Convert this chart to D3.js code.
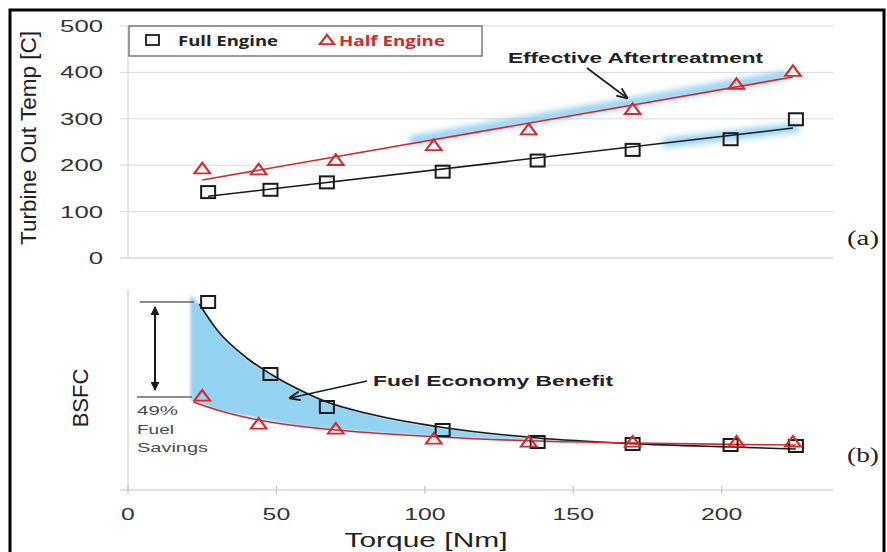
<!DOCTYPE html>
<html>
<head>
<meta charset="utf-8">
<script src="https://cdn.jsdelivr.net/npm/d3@7"></script>
<style>
  body { margin: 0; background: #fff; }
  svg { display: block; }
</style>
</head>
<body>
<svg id="chart" width="887" height="552"></svg>
<script>
// torque [Nm] of each measured point
const fullTorque = [27, 48, 67, 106, 138, 170, 203, 225];
const halfTorque = [25, 44, 70, 103, 135, 170, 205, 224];

// (a) turbine out temp [C]
const fullTemp = [142, 147, 163, 186, 210, 233, 256, 299];
const halfTemp = [190, 188, 208, 240, 274, 318, 372, 400];
const fullTrend = [[27, 133], [224, 280]];
const halfTrend = [[25, 168], [224, 390]];
const halfGlow = [95, 222];
const fullGlow = [180, 226];
const tempTicks = [0, 100, 200, 300, 400, 500];

// (b) BSFC, relative units (no axis labels in the original)
const fullBsfc = [940, 580, 415, 300, 240, 230, 225, 220];
const halfBsfc = [465, 325, 300, 250, 235, 235, 235, 235];
const fullFitX = [24, 30, 40, 48, 60, 67, 80, 105, 138, 170, 203, 225];
const fullFitY = [930, 800, 660, 580, 485, 440, 385, 315, 260, 232, 215, 205];
const halfFitX = [22, 30, 44, 60, 70, 105, 138, 170, 203, 225];
const halfFitY = [440, 400, 350, 315, 300, 265, 245, 235, 228, 225];
const bandX = [21, 24, 30, 40, 48, 60, 70, 80, 105, 138, 170];
const bandTop = [975, 930, 800, 660, 580, 485, 430, 385, 315, 260, 232];
const bandBottom = [450, 435, 400, 370, 345, 315, 300, 290, 265, 245, 235];
const torqueTicks = [0, 50, 100, 150, 200];

const svg = d3.select("#chart");
const red = "#d8282c", black = "#1a1a1a", glow = "#7ec8ee";
const sans = "Liberation Sans, Arial, sans-serif";

const x = d3.scaleLinear().domain([0, 237.5]).range([128, 833]);
const yTop = d3.scaleLinear().domain([0, 500]).range([258, 26]);
const yBot = d3.scaleLinear().domain([0, 1000]).range([490, 290]);

const defs = svg.append("defs");
defs.append("filter").attr("id", "blur").attr("x", "-10%").attr("y", "-80%").attr("width", "120%").attr("height", "260%")
  .append("feGaussianBlur").attr("stdDeviation", 3);
defs.append("filter").attr("id", "soft").attr("x", "-10%").attr("y", "-10%").attr("width", "120%").attr("height", "120%")
  .append("feGaussianBlur").attr("stdDeviation", 1.8);
defs.append("clipPath").attr("id", "bandclip")
  .append("rect").attr("x", x(20.5)).attr("y", 280).attr("width", 700).attr("height", 220);
defs.append("marker").attr("id", "arrow").attr("viewBox", "0 0 10 10")
  .attr("refX", 9).attr("refY", 5).attr("markerWidth", 7).attr("markerHeight", 7)
  .attr("orient", "auto-start-reverse")
  .append("path").attr("d", "M0,1 L10,5 L0,9").attr("fill", "none").attr("stroke", black).attr("stroke-width", 1.6);
defs.append("marker").attr("id", "tri").attr("viewBox", "0 0 10 10")
  .attr("refX", 9).attr("refY", 5).attr("markerWidth", 4.5).attr("markerHeight", 4.5)
  .attr("orient", "auto-start-reverse")
  .append("path").attr("d", "M0,0 L10,5 L0,10 Z").attr("fill", black);

// frame
svg.append("rect").attr("x", 10).attr("y", 10).attr("width", 874).attr("height", 560)
  .attr("fill", "none").attr("stroke", "#000").attr("stroke-width", 3);

// ---------- panel (a) ----------
svg.append("g").selectAll("line").data(tempTicks).enter().append("line")
  .attr("x1", 120).attr("x2", 833)
  .attr("y1", d => yTop(d)).attr("y2", d => yTop(d))
  .attr("stroke", d => d === 0 ? "#c4c4c4" : "#dadada").attr("stroke-width", 1);
svg.append("line").attr("x1", x(0)).attr("x2", x(0)).attr("y1", yTop(500)).attr("y2", yTop(0))
  .attr("stroke", "#d4d4d4");
svg.append("g").selectAll("text").data(tempTicks).enter().append("text")
  .attr("x", 103).attr("y", d => yTop(d) + 6)
  .attr("text-anchor", "end").attr("font-family", sans)
  .attr("font-size", 16).attr("fill", "#333")
  .attr("textLength", d => String(d).length * 14.3).attr("lengthAdjust", "spacingAndGlyphs")
  .text(d => d);
svg.append("text").attr("transform", "translate(36,138) rotate(-90)")
  .attr("text-anchor", "middle").attr("font-family", sans)
  .attr("font-size", 22).attr("fill", "#222").attr("textLength", 214).attr("lengthAdjust", "spacingAndGlyphs")
  .text("Turbine Out Temp [C]");

// glow highlights along the trend lines
const halfLine = d3.scaleLinear().domain(halfTrend.map(d => d[0])).range(halfTrend.map(d => d[1]));
const fullLine = d3.scaleLinear().domain(fullTrend.map(d => d[0])).range(fullTrend.map(d => d[1]));
svg.append("line").attr("x1", x(halfGlow[0])).attr("x2", x(halfGlow[1]))
  .attr("y1", yTop(halfLine(halfGlow[0])) - 3).attr("y2", yTop(halfLine(halfGlow[1])) - 3)
  .attr("stroke", glow).attr("stroke-width", 9).attr("opacity", 0.85).attr("filter", "url(#blur)");
svg.append("line").attr("x1", x(fullGlow[0])).attr("x2", x(fullGlow[1]))
  .attr("y1", yTop(fullLine(fullGlow[0]))).attr("y2", yTop(fullLine(fullGlow[1])))
  .attr("stroke", glow).attr("stroke-width", 9).attr("opacity", 0.85).attr("filter", "url(#blur)");

const line = d3.line().x(d => x(d[0])).y(d => yTop(d[1]));
svg.append("path").attr("d", line(fullTrend)).attr("stroke", black).attr("stroke-width", 1.6).attr("fill", "none");
svg.append("path").attr("d", line(halfTrend)).attr("stroke", red).attr("stroke-width", 1.6).attr("fill", "none");

function squares(g, xs, ys, yScale) {
  g.selectAll("rect.sq").data(xs).enter().append("rect").attr("class", "sq")
    .attr("x", (d) => x(d) - 7).attr("y", (d, i) => yScale(ys[i]) - 6)
    .attr("width", 14).attr("height", 12)
    .attr("fill", "none").attr("stroke", black).attr("stroke-width", 2);
}
function triangles(g, xs, ys, yScale) {
  const tri = d3.symbol().type(d3.symbolTriangle).size(80);
  g.selectAll("path.tr").data(xs).enter().append("path").attr("class", "tr")
    .attr("d", tri)
    .attr("transform", (d, i) => `translate(${x(d)},${yScale(ys[i])}) scale(1.15,0.9)`)
    .attr("fill", "none").attr("stroke", red).attr("stroke-width", 2);
}
const gA = svg.append("g");
squares(gA, fullTorque, fullTemp, yTop);
triangles(gA, halfTorque, halfTemp, yTop);

// legend
const leg = svg.append("g");
leg.append("rect").attr("x", 129).attr("y", 26).attr("width", 353).attr("height", 30)
  .attr("fill", "#fff").attr("stroke", "#666").attr("stroke-width", 1.3);
leg.append("rect").attr("x", 146).attr("y", 35).attr("width", 13).attr("height", 10)
  .attr("fill", "none").attr("stroke", black).attr("stroke-width", 1.8);
leg.append("text").attr("x", 178).attr("y", 46).attr("font-family", "Open Sans, sans-serif")
  .attr("font-weight", 700).attr("font-size", 14).attr("fill", "#222")
  .attr("textLength", 100).attr("lengthAdjust", "spacingAndGlyphs").text("Full Engine");
leg.append("path").attr("d", d3.symbol().type(d3.symbolTriangle).size(60))
  .attr("transform", "translate(327,41) scale(1.2,0.9)")
  .attr("fill", "none").attr("stroke", red).attr("stroke-width", 2);
leg.append("text").attr("x", 339).attr("y", 46).attr("font-family", "Open Sans, sans-serif")
  .attr("font-weight", 700).attr("font-size", 14).attr("fill", red)
  .attr("textLength", 106).attr("lengthAdjust", "spacingAndGlyphs").text("Half Engine");

svg.append("text").attr("x", 508).attr("y", 63).attr("font-family", sans)
  .attr("font-weight", 700).attr("font-size", 15.5).attr("fill", "#222")
  .attr("textLength", 255).attr("lengthAdjust", "spacingAndGlyphs").text("Effective Aftertreatment");
svg.append("line").attr("x1", 587).attr("y1", 68).attr("x2", 627).attr("y2", 98)
  .attr("stroke", black).attr("stroke-width", 1.6).attr("marker-end", "url(#arrow)");
svg.append("text").attr("x", 863).attr("y", 245).attr("text-anchor", "middle")
  .attr("font-family", "Liberation Serif, Times New Roman, serif").attr("font-size", 20)
  .attr("textLength", 32).attr("lengthAdjust", "spacingAndGlyphs").attr("fill", "#222").text("(a)");

// ---------- panel (b) ----------
svg.append("line").attr("x1", x(0)).attr("x2", x(0)).attr("y1", 290).attr("y2", yBot(0))
  .attr("stroke", "#cfcfcf").attr("stroke-width", 1.2);
svg.append("line").attr("x1", 120).attr("x2", 833).attr("y1", yBot(0)).attr("y2", yBot(0))
  .attr("stroke", "#c4c4c4").attr("stroke-width", 1.2);
svg.append("g").selectAll("line").data(torqueTicks).enter().append("line")
  .attr("x1", d => x(d)).attr("x2", d => x(d)).attr("y1", yBot(0) - 4).attr("y2", yBot(0) + 4)
  .attr("stroke", "#c4c4c4").attr("stroke-width", 1.2);
svg.append("g").selectAll("text").data(torqueTicks).enter().append("text")
  .attr("x", d => x(d)).attr("y", 520).attr("text-anchor", "middle")
  .attr("font-family", sans).attr("font-size", 16).attr("fill", "#333")
  .attr("textLength", d => String(d).length * 13.8).attr("lengthAdjust", "spacingAndGlyphs")
  .text(d => d);
svg.append("text").attr("x", 426).attr("y", 547).attr("text-anchor", "middle")
  .attr("font-family", sans).attr("font-size", 21).attr("fill", "#222")
  .attr("textLength", 163).attr("lengthAdjust", "spacingAndGlyphs").text("Torque [Nm]");
svg.append("text").attr("transform", "translate(88,398) rotate(-90)")
  .attr("text-anchor", "middle").attr("font-family", sans)
  .attr("font-size", 22).attr("fill", "#222").text("BSFC");

// benefit band
const band = d3.area().curve(d3.curveMonotoneX)
  .x((d, i) => x(bandX[i])).y0((d, i) => yBot(bandBottom[i])).y1((d, i) => yBot(bandTop[i]));
svg.append("g").attr("clip-path", "url(#bandclip)")
  .append("path").attr("d", band(bandX)).attr("fill", "#93d2f0").attr("filter", "url(#soft)");

const curve = d3.line().curve(d3.curveMonotoneX).x(d => x(d[0])).y(d => yBot(d[1]));
svg.append("path").attr("d", curve(fullFitX.map((d, i) => [d, fullFitY[i]])))
  .attr("fill", "none").attr("stroke", black).attr("stroke-width", 1.6);
svg.append("path").attr("d", curve(halfFitX.map((d, i) => [d, halfFitY[i]])))
  .attr("fill", "none").attr("stroke", red).attr("stroke-width", 1.6);

const gB = svg.append("g");
squares(gB, fullTorque, fullBsfc, yBot);
triangles(gB, halfTorque, halfBsfc, yBot);

// 49% savings annotation
svg.append("line").attr("x1", 140).attr("x2", 194).attr("y1", yBot(940)).attr("y2", yBot(940))
  .attr("stroke", "#666").attr("stroke-width", 1.4);
svg.append("line").attr("x1", 137).attr("x2", 192).attr("y1", yBot(465)).attr("y2", yBot(465))
  .attr("stroke", "#666").attr("stroke-width", 1.4);
svg.append("line").attr("x1", 155).attr("x2", 155).attr("y1", yBot(915)).attr("y2", yBot(500))
  .attr("stroke", black).attr("stroke-width", 2)
  .attr("marker-start", "url(#tri)").attr("marker-end", "url(#tri)");
const savLines = [["49%", 41], ["Fuel", 37], ["Savings", 71]];
const sav = svg.append("g").attr("font-family", sans).attr("font-size", 13).attr("fill", "#4a4a4a");
savLines.forEach((t, i) => {
  sav.append("text").attr("x", 137).attr("y", 415 + i * 18.5)
    .attr("textLength", t[1]).attr("lengthAdjust", "spacingAndGlyphs").text(t[0]);
});

svg.append("text").attr("x", 373).attr("y", 386).attr("font-family", sans)
  .attr("font-weight", 700).attr("font-size", 15).attr("fill", "#222")
  .attr("textLength", 240).attr("lengthAdjust", "spacingAndGlyphs").text("Fuel Economy Benefit");
svg.append("line").attr("x1", 367).attr("y1", 381).attr("x2", 290).attr("y2", 398)
  .attr("stroke", black).attr("stroke-width", 1.6).attr("marker-end", "url(#arrow)");
svg.append("text").attr("x", 863).attr("y", 462).attr("text-anchor", "middle")
  .attr("font-family", "Liberation Serif, Times New Roman, serif").attr("font-size", 20)
  .attr("textLength", 32).attr("lengthAdjust", "spacingAndGlyphs").attr("fill", "#222").text("(b)");
</script>
</body>
</html>
